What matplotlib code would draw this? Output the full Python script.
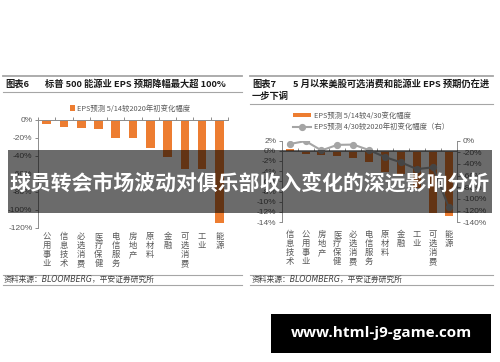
import matplotlib
matplotlib.use('Agg')
import matplotlib.pyplot as plt
from matplotlib.patches import Rectangle
from matplotlib.lines import Line2D
import matplotlib.transforms as mtransforms
import numpy as np

plt.rcParams['font.family'] = ['Liberation Sans', 'Noto Sans CJK SC']

# ---------------- data ----------------
left_title_num = '图表6'
left_title = '标普 500 能源业 EPS 预期降幅最大超 100%'
left_cats = ['公用事业', '信息技术', '必选消费', '医疗保健', '电信服务', '房地产',
             '原材料', '金融', '可选消费', '工业', '能源']
left_vals = [-4, -7.5, -9, -10, -20, -20, -31.5, -41, -54, -54.5, -114]
left_legend = 'EPS预测 5/14较2020年初变化幅度'
left_yticks = [0, -20, -40, -60, -80, -100, -120]

right_title_num = '图表7'
right_title_l1 = '5 月以来美股可选消费和能源业 EPS 预期仍在进'
right_title_l2 = '一步下调'
right_cats = ['信息技术', '公用事业', '房地产', '医疗保健', '必选消费', '电信服务',
              '原材料', '金融', '工业', '可选消费', '能源']
right_bars = [0.3, -0.7, -0.9, -1.0, -1.4, -2.3, -4.1, -4.5, -7.4, -12.2, -12.7]
right_line = [-6, -1, -17, -7.5, -7, -16.5, -28.5, -37.5, -49, -46, -114]
right_bar_label = 'EPS预测 5/14较4/30变化幅度'
right_line_label = 'EPS预测 4/30较2020年初变化幅度（右）'
right_yticks_l = [2, 0, -2, -4, -6, -8, -10, -12, -14]
right_yticks_r = [0, -20, -40, -60, -80, -100, -120, -140]

source = '资料来源：BLOOMBERG，平安证券研究所'
banner = '球员转会市场波动对俱乐部收入变化的深远影响分析'
watermark = 'www.html-j9-game.com'

# ---------------- style ----------------
ORANGE = '#ED7D31'
GRAY_LINE = '#A5A5A5'
AXC = '#8C8C8C'
TXT = '#595959'
CJK = ['Noto Sans CJK SC', 'DejaVu Sans']

W, H = 500, 362
fig = plt.figure(figsize=(5, 3.62), dpi=100)


def fx(px):
    return px / W


def fy(py):
    return 1 - py / H


def rect(x0, y0, x1, y1):
    return [fx(x0), fy(y1), (x1 - x0) / W, (y1 - y0) / H]


def hline(x0, x1, y, lw=0.8, color='#A6A6A6'):
    fig.add_artist(Line2D([fx(x0), fx(x1)], [fy(y), fy(y)], color=color, lw=lw,
                          transform=fig.transFigure))


def style_cat_axis(ax, n):
    ax.spines['top'].set_visible(False)
    ax.spines['right'].set_visible(False)
    ax.spines['bottom'].set_position(('data', 0))
    ax.spines['bottom'].set_color(AXC)
    ax.spines['bottom'].set_linewidth(0.7)
    ax.spines['left'].set_color(AXC)
    ax.spines['left'].set_linewidth(0.7)
    ax.set_xticks(np.arange(-0.5, n, 1.0))
    ax.tick_params(axis='x', direction='in', length=2.5, color=AXC, width=0.7,
                   labelbottom=False)
    ax.tick_params(axis='y', direction='out', length=2.5, color=AXC, width=0.7,
                   labelsize=6, labelcolor=TXT, pad=1.5)
    ax.set_xlim(-0.5, n - 0.5)
    ax.patch.set_alpha(0)


def cat_labels(ax, cats, ytop):
    tr = mtransforms.blended_transform_factory(ax.transData, fig.transFigure)
    for i, c in enumerate(cats):
        ax.text(i, fy(ytop), '\n'.join(c), transform=tr, ha='center', va='top',
                fontsize=6, color=TXT, family=CJK, linespacing=1.0, clip_on=False)


# ---------------- left chart ----------------
axL = fig.add_axes(rect(38, 120, 228, 228))
xl = np.arange(len(left_cats))
barsL = axL.bar(xl, left_vals, width=0.5, color=ORANGE, label=left_legend, zorder=2)
axL.set_ylim(-120, 0)
style_cat_axis(axL, len(left_cats))
axL.set_yticks(left_yticks)
axL.set_yticklabels([f'{v}%' for v in left_yticks])
cat_labels(axL, left_cats, 232)
legL = fig.legend(handles=[barsL], labels=[left_legend], loc='center',
                  bbox_to_anchor=(fx(130), fy(108.5)), frameon=False,
                  prop={'family': CJK, 'size': 5.3}, handlelength=0.7,
                  handleheight=0.7, handletextpad=0.2, borderpad=0, borderaxespad=0)
for t in legL.get_texts():
    t.set_color(TXT)

# ---------------- right chart ----------------
axR = fig.add_axes(rect(281.7, 140.5, 456.7, 222.2))
xr = np.arange(len(right_cats))
barsR = axR.bar(xr, right_bars, width=0.5, color=ORANGE, label=right_bar_label, zorder=2)
axR.set_ylim(-14, 2)
style_cat_axis(axR, len(right_cats))
axR.set_yticks(right_yticks_l)
axR.set_yticklabels([f'{v}%' for v in right_yticks_l])
cat_labels(axR, right_cats, 230)

axR2 = axR.twinx()
lineR, = axR2.plot(xr, right_line, color=GRAY_LINE, lw=1.5, marker='o', ms=4.2,
                   markerfacecolor=GRAY_LINE, markeredgecolor=GRAY_LINE,
                   label=right_line_label, zorder=3)
axR2.set_ylim(-140, 0)
axR2.set_xlim(-0.5, len(right_cats) - 0.5)
for s in ['top', 'bottom', 'left']:
    axR2.spines[s].set_visible(False)
axR2.spines['right'].set_color(AXC)
axR2.spines['right'].set_linewidth(0.7)
axR2.set_yticks(right_yticks_r)
axR2.set_yticklabels([f'{v}%' for v in right_yticks_r])
axR2.tick_params(axis='y', direction='out', length=2.5, color=AXC, width=0.7,
                 labelsize=6, labelcolor=TXT, pad=1.5)

legR = fig.legend(handles=[barsR, lineR], labels=[right_bar_label, right_line_label],
                  loc='upper left', bbox_to_anchor=(fx(293), fy(112)), frameon=False,
                  prop={'family': CJK, 'size': 5.3}, handlelength=2.5,
                  handleheight=0.5, handletextpad=0.3, borderpad=0, borderaxespad=0,
                  labelspacing=0.45)
for t in legR.get_texts():
    t.set_color(TXT)

# ---------------- titles & sources ----------------
hline(3, 242, 75.5, lw=1.3)
hline(250, 493, 75.5, lw=1.3)
hline(3, 242, 92, lw=0.8)
hline(250, 493, 103.5, lw=0.8)

tkw = dict(fontsize=6.7, fontweight='bold', color='#1a1a1a', va='center', family=CJK)
fig.text(fx(5), fy(84), left_title_num, **tkw)
fig.text(fx(45), fy(84), left_title, **tkw)
fig.text(fx(252), fy(84), right_title_num, **tkw)
fig.text(fx(293), fy(84), right_title_l1, **tkw)
fig.text(fx(252), fy(96), right_title_l2, **tkw)

hline(3, 242, 274.5, lw=0.8)
hline(3, 242, 285, lw=0.8)
hline(250, 493, 274.5, lw=0.8)
hline(250, 493, 285, lw=0.8)
skw = dict(fontsize=5.6, color='#404040', va='center', style='italic',
           family=['DejaVu Sans', 'Noto Sans CJK SC'])
fig.text(fx(4), fy(279.8), source, **skw)
fig.text(fx(252), fy(279.8), source, **skw)

# ---------------- overlays ----------------
fig.add_artist(Rectangle((fx(8), fy(213)), (492 - 8) / W, (213 - 150) / H,
                         transform=fig.transFigure, facecolor='black', alpha=0.58,
                         edgecolor='none', zorder=10))
fig.text(fx(250), fy(183), banner, color='white', fontsize=15, fontweight='bold',
         ha='center', va='center', family=CJK, zorder=11)

fig.add_artist(Rectangle((fx(271), fy(353)), 220 / W, 39 / H,
                         transform=fig.transFigure, facecolor='black',
                         edgecolor='none', zorder=10))
fig.text(fx(381), fy(333.5), watermark, color='white', fontsize=11, fontweight='bold',
         ha='center', va='center', family=['Open Sans', 'DejaVu Sans'], zorder=11)

fig.savefig('out.png', dpi=100)
